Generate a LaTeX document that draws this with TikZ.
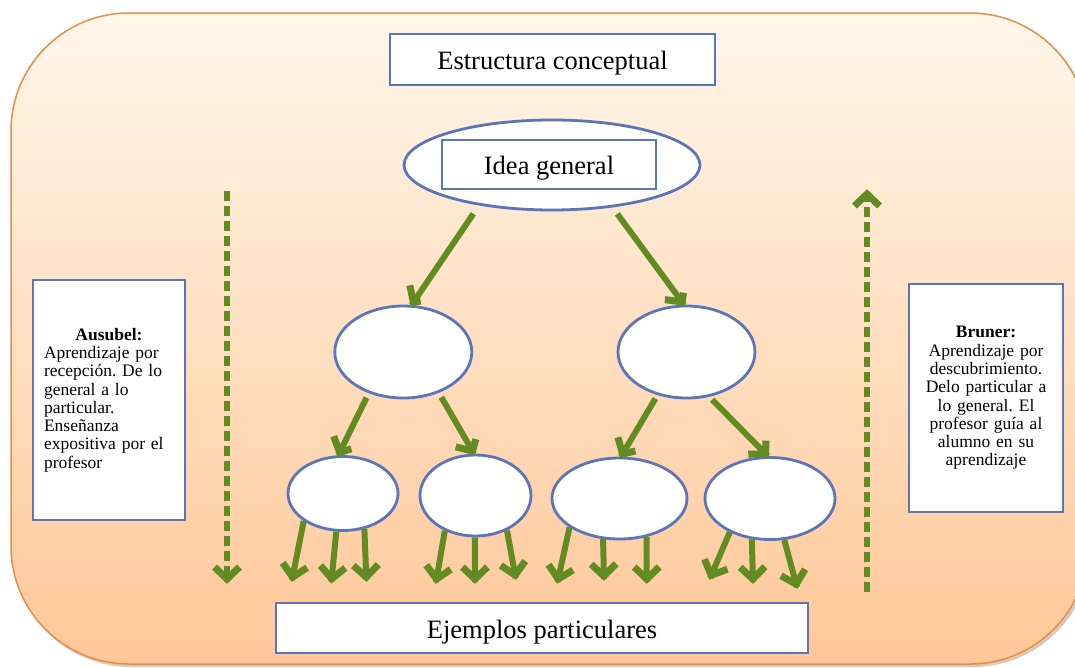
\documentclass[tikz,border=0pt]{standalone}
\usepackage{fontspec}
\setmainfont{Liberation Serif}
\usetikzlibrary{shapes.geometric,decorations.markings}
\frenchspacing

\definecolor{boxblue}{RGB}{92,116,186}
\definecolor{leafgreen}{RGB}{98,140,34}
\definecolor{panelTop}{RGB}{255,247,234}
\definecolor{panelBot}{RGB}{255,199,152}
\definecolor{panelEdge}{RGB}{228,142,72}
\definecolor{panelShadow}{RGB}{150,100,60}

\begin{document}
\begin{tikzpicture}[x=1pt,y=-1pt,
  panelbox/.style={draw=boxblue,line width=2.6pt,fill=white,inner sep=0pt},
  bubble/.style={ellipse,draw=boxblue,line width=2.8pt,fill=white,inner sep=0pt},
  chevron/.style={postaction={decorate,decoration={markings,
    mark=at position 1 with {\draw[leafgreen,solid,line width=7pt,line join=miter,line cap=butt]
      (-15pt,12.5pt) -- (-3pt,0pt) -- (-15pt,-12.5pt);}}}},
  link/.style={draw=leafgreen,line width=6pt,chevron},
  trend/.style={draw=leafgreen,line width=6pt,dash pattern=on 10pt off 5pt,chevron},
  heading/.style={font=\fontsize{26.5}{30}\selectfont,text height=21pt,text depth=1pt},
  sidenote/.style={font=\fontsize{17.5}{18.3}\selectfont}
]
\useasboundingbox (0,0) rectangle (1075,667);

% background panel with soft shadow
\fill[panelShadow,opacity=0.35,rounded corners=118pt] (13,16) rectangle (1091,667);
\draw[panelEdge,line width=1.5pt,top color=panelTop,bottom color=panelBot,
  rounded corners=118pt] (11,13) rectangle (1088,664);

% headings
\node[panelbox,heading,minimum width=325pt,minimum height=51pt] (title) at (552.5,59.5) {Estructura conceptual};

% tree of concepts
\node[bubble,minimum width=296pt,minimum height=90pt] (root) at (552,165) {};
\node[panelbox,heading,minimum width=214pt,minimum height=49pt] (idea) at (549,164.5) {Idea general};

\node[bubble,minimum width=137pt,minimum height=92pt] (ml) at (403.3,352) {};
\node[bubble,minimum width=137pt,minimum height=92pt] (mr) at (686.5,352) {};

\node[bubble,minimum width=110pt,minimum height=74pt] (e1) at (343,493.5) {};
\node[bubble,minimum width=111pt,minimum height=81pt] (e2) at (475.5,495.5) {};
\node[bubble,minimum width=135pt,minimum height=81pt] (e3) at (619.5,498.5) {};
\node[bubble,minimum width=130pt,minimum height=82pt] (e4) at (770,498.5) {};

\node[panelbox,heading,minimum width=532pt,minimum height=50pt] (ex) at (542,628) {Ejemplos particulares};

% side notes
\node[panelbox,sidenote,inner xsep=11pt,text width=130pt,minimum height=240pt,align=left] (aus) at (109,400)
  {\makebox[130pt][c]{\textbf{Ausubel:}}\\ Aprendizaje por\\ recepción. De lo\\ general a lo\\ particular.\\ Enseñanza\\ expositiva por el\\ profesor};
\node[panelbox,sidenote,inner xsep=7pt,text width=140pt,minimum height=228pt,align=center] (bru) at (986,398)
  {\textbf{Bruner:}\\ Aprendizaje por\\ descubrimiento.\\ Delo particular a\\ lo general. El\\ profesor guía al\\ alumno en su\\ aprendizaje};

% branches
\draw[link,shorten <=10pt] (root.209.6) -- (ml.80);
\draw[link,shorten <=8pt] (root.325.8) -- (mr.93);
\draw[link,shorten <=5pt] (ml.230.7) -- (e1.97);
\draw[link,shorten <=5pt] (ml.311.8) -- (e2.92);
\draw[link,shorten <=4pt] (mr.236.5) -- (e3.88);
\draw[link,shorten <=4pt] (mr.297.4) -- (e4.93);

% leaves
\coordinate (t1a) at (292,580);   \coordinate (t1b) at (331.4,581.7); \coordinate (t1c) at (366.4,580);
\coordinate (t2a) at (436,582);   \coordinate (t2b) at (475,582);     \coordinate (t2c) at (515.7,578);
\coordinate (t3a) at (557.5,582); \coordinate (t3b) at (604,579);     \coordinate (t3c) at (646.8,582);
\coordinate (t4a) at (710,578);   \coordinate (t4b) at (753,582);     \coordinate (t4c) at (797,587);

\draw[link] (e1.215.4) -- (t1a);
\draw[link] (e1.260.4) -- (t1b);
\draw[link] (e1.301.3) -- (t1c);
\draw[link] (e2.229.5) -- (t2a);
\draw[link] (e2.269) -- (t2b);
\draw[link] (e2.312.2) -- (t2c);
\draw[link] (e3.210.3) -- (t3a);
\draw[link] (e3.248.6) -- (t3b);
\draw[link] (e3.305.3) -- (t3c);
\draw[link] (e4.220.7) -- (t4a);
\draw[link] (e4.246.5) -- (t4b);
\draw[link] (e4.289.7) -- (t4c);

% direction of learning
\coordinate (dnStart) at (227,191);
\coordinate (dnEnd) at (227,582);
\draw[trend] (dnStart) -- (dnEnd);
\coordinate (upStart) at (867,592);
\coordinate (upEnd) at (867,191);
\draw[trend] (upStart) -- (upEnd);
\end{tikzpicture}
\end{document}
